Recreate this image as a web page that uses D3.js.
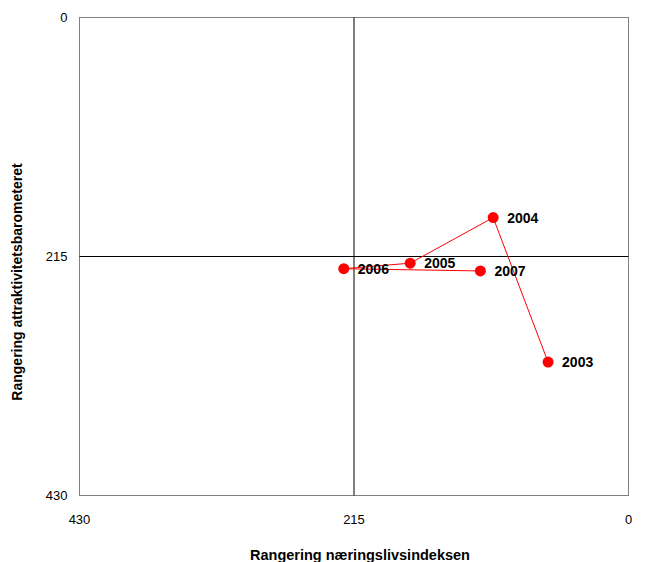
<!DOCTYPE html>
<html>
<head>
<meta charset="utf-8">
<script src="https://cdn.jsdelivr.net/npm/d3@7"></script>
<style>
  body { margin: 0; background: #fff; }
  text { font-family: "Liberation Sans", Arial, sans-serif; }
</style>
</head>
<body>
<div id="chart"></div>
<script>
// years and rankings
var years = ["2003", "2004", "2005", "2006", "2007"];
var naeringsliv = [63, 106, 171, 223, 116];      // x: Rangering næringslivsindeksen
var attraktivitet = [310, 180, 221, 226, 228];   // y: Rangering attraktivitetsbarometeret
var xTicks = [430, 215, 0];
var yTicks = [0, 215, 430];

var width = 647, height = 562;
var margin = {top: 17.5, right: 18.5, bottom: 66.5, left: 79.5};

var svg = d3.select("#chart").append("svg")
    .attr("width", width)
    .attr("height", height);

var x = d3.scaleLinear().domain([430, 0]).range([margin.left, width - margin.right]);
var y = d3.scaleLinear().domain([0, 430]).range([margin.top, height - margin.bottom]);

var data = years.map(function(yr, i) {
    return {year: yr, x: naeringsliv[i], y: attraktivitet[i]};
});

// plot frame
svg.append("rect")
    .attr("x", x(430))
    .attr("y", y(0))
    .attr("width", x(0) - x(430))
    .attr("height", y(430) - y(0))
    .attr("fill", "none")
    .attr("stroke", "#808080")
    .attr("stroke-width", 1);

// crosshair at the middle rank
svg.append("line")
    .attr("x1", x(215)).attr("x2", x(215))
    .attr("y1", y(0)).attr("y2", y(430))
    .attr("stroke", "#000");
svg.append("line")
    .attr("x1", x(430)).attr("x2", x(0))
    .attr("y1", y(215)).attr("y2", y(215))
    .attr("stroke", "#000");

// tick labels
svg.append("g").selectAll("text")
    .data(yTicks)
    .enter().append("text")
    .attr("x", margin.left - 12)
    .attr("y", function(d) { return y(d); })
    .attr("dy", "0.35em")
    .attr("text-anchor", "end")
    .attr("font-size", 13)
    .text(function(d) { return d; });

svg.append("g").selectAll("text")
    .data(xTicks)
    .enter().append("text")
    .attr("x", function(d) { return x(d); })
    .attr("y", y(430) + 28)
    .attr("text-anchor", "middle")
    .attr("font-size", 13)
    .text(function(d) { return d; });

// axis titles
svg.append("text")
    .attr("x", 360)
    .attr("y", 560)
    .attr("text-anchor", "middle")
    .attr("font-size", 14.5)
    .attr("font-weight", "bold")
    .text("Rangering næringslivsindeksen");

svg.append("text")
    .attr("transform", "translate(22," + 282 + ") rotate(-90)")
    .attr("text-anchor", "middle")
    .attr("font-size", 14)
    .attr("font-weight", "bold")
    .text("Rangering attraktivitetsbarometeret");

// path through the years
var line = d3.line()
    .x(function(d) { return x(d.x); })
    .y(function(d) { return y(d.y); });

svg.append("path")
    .datum(data)
    .attr("d", line)
    .attr("fill", "none")
    .attr("stroke", "#ff0000")
    .attr("stroke-width", 1);

svg.append("g").selectAll("circle")
    .data(data)
    .enter().append("circle")
    .attr("cx", function(d) { return x(d.x); })
    .attr("cy", function(d) { return y(d.y); })
    .attr("r", 5.5)
    .attr("fill", "#ff0000");

svg.append("g").selectAll("text")
    .data(data)
    .enter().append("text")
    .attr("x", function(d) { return x(d.x) + 14; })
    .attr("y", function(d) { return y(d.y); })
    .attr("dy", "0.38em")
    .attr("font-size", 14)
    .attr("font-weight", "bold")
    .text(function(d) { return d.year; });
</script>
</body>
</html>
